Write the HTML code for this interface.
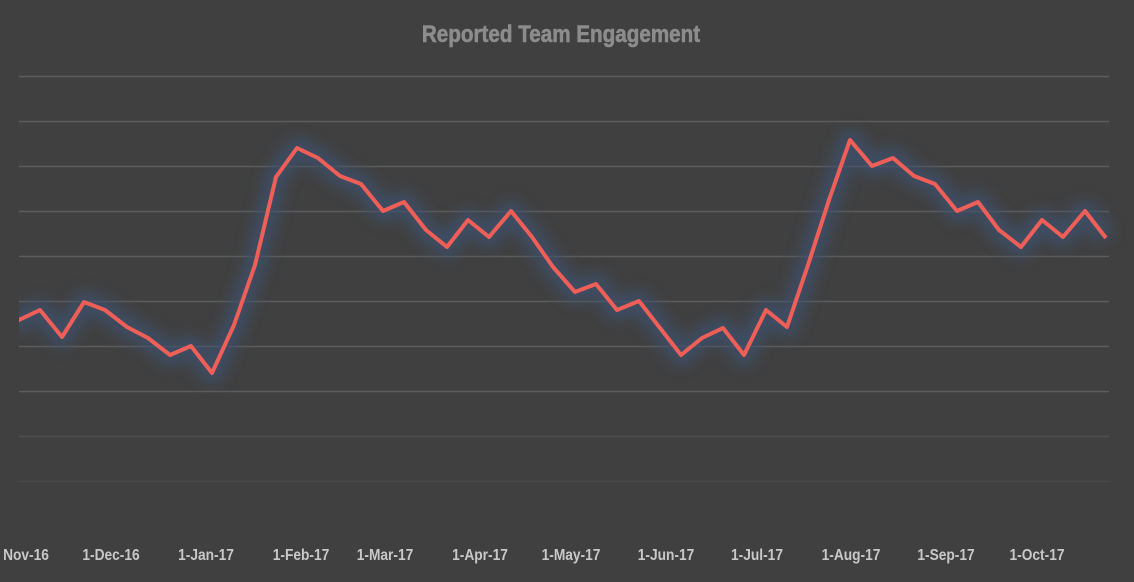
<!DOCTYPE html>
<html><head><style>
html,body{margin:0;padding:0;background:#404040;}
svg{display:block}
.t{font-family:"Liberation Sans",sans-serif;font-weight:700;}
</style></head><body>
<svg width="1134" height="582" viewBox="0 0 1134 582" xmlns="http://www.w3.org/2000/svg">
<defs>
<filter id="glow" x="-10%" y="-30%" width="120%" height="160%">
<feGaussianBlur stdDeviation="7"/>
</filter>
<clipPath id="c"><rect x="19" y="0" width="1115" height="582"/></clipPath>
</defs>
<rect width="1134" height="582" fill="#404040"/>
<g transform="translate(561 0) scale(0.86 1)">
<text class="t" x="0" y="42" text-anchor="middle" font-size="24" fill="#8c8c8c" stroke="#8c8c8c" stroke-width="0.6">Reported Team Engagement</text>
</g>
<g stroke="#5c5c5c" stroke-width="1.5">
<line x1="19" x2="1109" y1="76.5" y2="76.5"/>
<line x1="19" x2="1109" y1="121.5" y2="121.5"/>
<line x1="19" x2="1109" y1="166.5" y2="166.5"/>
<line x1="19" x2="1109" y1="211.5" y2="211.5"/>
<line x1="19" x2="1109" y1="256.5" y2="256.5"/>
<line x1="19" x2="1109" y1="301.5" y2="301.5"/>
<line x1="19" x2="1109" y1="346.5" y2="346.5"/>
<line x1="19" x2="1109" y1="391.5" y2="391.5"/>
<line x1="19" x2="1109" y1="436.5" y2="436.5" stroke="#4e4e4e"/>
<line x1="19" x2="1109" y1="481.5" y2="481.5" stroke="#484848"/>
</g>
<g clip-path="url(#c)">
<polyline filter="url(#glow)" fill="none" stroke="#3e5170" stroke-width="22" stroke-linejoin="round" opacity="0.75"
points="10,325 19,320 40,310 62,337 84,302 105,310 127,327 148,338 170,355 191,346 212,373 234,325 255,265 276,177 297,148 318,158 340,176 361,184 383,211 404,202 426,230 447,247 468,220 489,237 511,211 532,237 553,267 575,292 596,284 617,310 639,301 660,328 681,355 702,338 723,328 744,355 766,310 787,327 808,265 829,200 850,140 872,166 893,158 914,176 935,184 957,211 978,202 999,230 1021,247 1042,220 1063,237 1085,211 1106,238"/>
<polyline fill="none" stroke="#ef5f58" stroke-width="4" stroke-linejoin="round"
points="10,325 19,320 40,310 62,337 84,302 105,310 127,327 148,338 170,355 191,346 212,373 234,325 255,265 276,177 297,148 318,158 340,176 361,184 383,211 404,202 426,230 447,247 468,220 489,237 511,211 532,237 553,267 575,292 596,284 617,310 639,301 660,328 681,355 702,338 723,328 744,355 766,310 787,327 808,265 829,200 850,140 872,166 893,158 914,176 935,184 957,211 978,202 999,230 1021,247 1042,220 1063,237 1085,211 1106,238"/>
</g>
<g class="t" font-size="16" fill="#c8c8c8" text-anchor="middle">
<text transform="translate(26 560) scale(0.86 1)">Nov-16</text>
<text transform="translate(111 560) scale(0.86 1)">1-Dec-16</text>
<text transform="translate(206 560) scale(0.86 1)">1-Jan-17</text>
<text transform="translate(301 560) scale(0.86 1)">1-Feb-17</text>
<text transform="translate(385 560) scale(0.86 1)">1-Mar-17</text>
<text transform="translate(480 560) scale(0.86 1)">1-Apr-17</text>
<text transform="translate(571 560) scale(0.86 1)">1-May-17</text>
<text transform="translate(666 560) scale(0.86 1)">1-Jun-17</text>
<text transform="translate(757 560) scale(0.86 1)">1-Jul-17</text>
<text transform="translate(851 560) scale(0.86 1)">1-Aug-17</text>
<text transform="translate(946 560) scale(0.86 1)">1-Sep-17</text>
<text transform="translate(1037 560) scale(0.86 1)">1-Oct-17</text>
</g>
</svg>
</body></html>
